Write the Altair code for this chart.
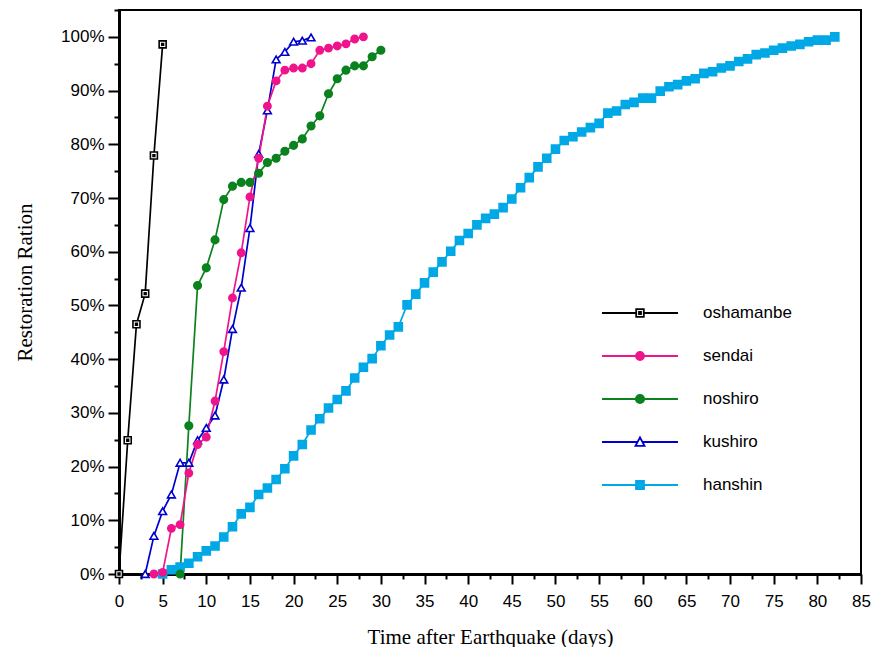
import altair as alt
import pandas as pd

series_names = ["oshamanbe", "sendai", "noshiro", "kushiro", "hanshin"]
series_colors = ["#000000", "#F0148C", "#0A821E", "#0000CD", "#00A8E6"]

osh_days = [0, 1, 2, 3, 4, 5]
osh_vals = [0, 24.9, 46.5, 52.2, 77.9, 98.6]

sen_days = list(range(4, 29))
sen_vals = [0, 0.3, 8.5, 9.2, 18.8, 24.1, 25.5, 32.2, 41.4, 51.4, 59.8, 70.2, 77.4,
            87.1, 91.8, 93.8, 94.2, 94.2, 95.0, 97.5, 97.9, 98.3, 98.7, 99.6, 100]

nos_days = list(range(7, 31))
nos_vals = [0, 27.6, 53.7, 57.0, 62.2, 69.7, 72.2, 72.9, 72.9, 74.6, 76.6, 77.4,
            78.7, 79.8, 81.0, 83.4, 85.3, 89.4, 92.2, 93.8, 94.6, 94.6, 96.3, 97.5]

kus_days = list(range(3, 23))
kus_vals = [0, 7.1, 11.7, 14.8, 20.7, 20.7, 24.9, 27.2, 29.5, 36.2, 45.6, 53.3,
            64.4, 78.2, 86.3, 95.8, 97.2, 99.1, 99.3, 99.9]

han_days = list(range(5, 83))
han_vals = [0, 0.8, 1.3, 2.0, 3.2, 4.3, 5.2, 6.9, 8.8, 11.2, 12.4, 14.8, 16.0, 17.6,
            19.6, 22.0, 24.1, 26.8, 28.9, 30.9, 32.5, 34.1, 36.5, 38.5, 40.1, 42.5,
            44.5, 46.0, 50.1, 52.1, 54.2, 56.2, 58.1, 60.1, 62.1, 63.4, 65.0, 66.2,
            67.0, 68.2, 69.8, 71.9, 73.8, 75.8, 77.4, 79.1, 80.7, 81.4, 82.3, 83.1,
            83.9, 85.8, 86.2, 87.4, 87.8, 88.6, 88.6, 89.9, 90.7, 91.1, 91.8, 92.2,
            93.2, 93.5, 94.2, 94.6, 95.4, 95.9, 96.7, 97.0, 97.5, 97.9, 98.3, 98.6,
            99.1, 99.4, 99.4, 100]

x_major = list(range(0, 86, 5))
x_minor = [v + 2.5 for v in range(0, 85, 5)]
y_major = [v / 10 for v in range(0, 11)]
y_minor = [v / 10 + 0.05 for v in range(0, 11)]

rows = []
for name, days, vals in [("hanshin", han_days, han_vals), ("kushiro", kus_days, kus_vals),
                         ("noshiro", nos_days, nos_vals), ("sendai", sen_days, sen_vals),
                         ("oshamanbe", osh_days, osh_vals)]:
    for d, v in zip(days, vals):
        rows.append({"series": name, "day": d, "ratio": v / 100})
df = pd.DataFrame(rows)

FONT = "Liberation Sans"
SERIF = "Liberation Serif"

x_scale = alt.Scale(domain=[0, 85], nice=False, zero=False)
y_scale = alt.Scale(domain=[0, 1.05], nice=False)

minor_x_axis = alt.Axis(values=x_minor, labels=False, tickSize=5, tickWidth=2, tickColor="black",
                        domain=False, grid=False, title=None, orient="bottom")
minor_y_axis = alt.Axis(values=y_minor, labels=False, tickSize=5, tickWidth=2, tickColor="black",
                        domain=False, grid=False, title=None, orient="left")

major_x_axis = alt.Axis(values=x_major, format="d", tickSize=10, tickWidth=2, tickColor="black",
                        domainWidth=3, domainColor="black", grid=False, orient="bottom",
                        labelFont=FONT, labelFontSize=17, labelColor="black", labelPadding=9,
                        labelFlush=False,
                        title="Time after Earthquake (days)", titleFont=SERIF, titleFontSize=21,
                        titleFontWeight="normal", titleColor="black", titleY=52)
major_y_axis = alt.Axis(values=y_major, format=".0%", tickSize=11, tickWidth=2, tickColor="black",
                        domainWidth=3, domainColor="black", grid=False, orient="left",
                        labelFont=FONT, labelFontSize=17, labelColor="black", labelPadding=4,
                        labelFlush=False,
                        title="Restoration Ration", titleFont=SERIF, titleFontSize=21,
                        titleFontWeight="normal", titleColor="black", titleAngle=270,
                        titleAlign="center", titleBaseline="middle", titleX=-94, titleY=272)

lines = alt.Chart(df).mark_line(strokeWidth=1.7).encode(
    x=alt.X("day:Q", scale=x_scale, axis=minor_x_axis),
    y=alt.Y("ratio:Q", scale=y_scale, axis=minor_y_axis),
    color=alt.Color("series:N", scale=alt.Scale(domain=series_names, range=series_colors), legend=None),
)

point_shapes = ["M-1,-1H1V1H-1ZM-0.25,-0.25H0.25V0.25H-0.25Z", "circle", "circle", "triangle-up", "square"]
point_fills = ["#FFFFFF", series_colors[1], series_colors[2], "#FFFFFF", series_colors[4]]
point_sizes = [49, 64, 81, 95, 64]

points = alt.Chart(df).mark_point(filled=True, opacity=1, strokeWidth=1.6).encode(
    x=alt.X("day:Q", scale=x_scale, axis=major_x_axis),
    y=alt.Y("ratio:Q", scale=y_scale, axis=major_y_axis),
    shape=alt.Shape("series:N", scale=alt.Scale(domain=series_names, range=point_shapes), legend=None),
    fill=alt.Fill("series:N", scale=alt.Scale(domain=series_names, range=point_fills), legend=None),
    stroke=alt.Stroke("series:N", scale=alt.Scale(domain=series_names, range=series_colors), legend=None),
    size=alt.Size("series:N", scale=alt.Scale(domain=series_names, range=point_sizes), legend=None),
)

legend_shapes = [
    "M-3.8,0H-0.38M0.38,0H3.8M-0.38,-0.38H0.38V0.38H-0.38ZM-0.1,-0.1H0.1V0.1H-0.1Z",
    "M-3.8,0H3.8M-0.4,0A0.4,0.4 0 1,0 0.4,0A0.4,0.4 0 1,0 -0.4,0Z",
    "M-3.8,0H3.8M-0.42,0A0.42,0.42 0 1,0 0.42,0A0.42,0.42 0 1,0 -0.42,0Z",
    "M-3.8,0H-0.25M0.25,0H3.8M0,-0.45L0.45,0.38L-0.45,0.38Z",
    "M-3.8,0H3.8M-0.4,-0.4H0.4V0.4H-0.4Z",
]

legend_layer = alt.Chart(df).transform_filter("false").mark_point(
    filled=True, opacity=1, strokeWidth=1.8
).encode(
    shape=alt.Shape("series:N", scale=alt.Scale(domain=series_names, range=legend_shapes),
                    legend=alt.Legend(title=None, orient="none", legendX=510, legendY=292,
                                      symbolSize=400, symbolStrokeWidth=1.8, symbolOpacity=1,
                                      labelFont=FONT, labelFontSize=17, labelColor="black",
                                      labelOffset=52, rowPadding=24, padding=0)),
    fill=alt.Fill("series:N", scale=alt.Scale(domain=series_names, range=point_fills)),
    stroke=alt.Stroke("series:N", scale=alt.Scale(domain=series_names, range=series_colors)),
)

chart = alt.layer(lines, points, legend_layer).resolve_scale(
    shape="independent", fill="independent", stroke="independent", size="independent", color="independent"
).resolve_axis(
    x="independent", y="independent"
).properties(
    width=742, height=564,
    autosize=alt.AutoSizeParams(type="none"),
    padding={"left": 111, "top": 2, "right": 10, "bottom": 73},
    background="white",
).configure_view(
    stroke="black", strokeWidth=2
)

chart.save("out.html", embed_options={"renderer": "svg", "actions": False})
